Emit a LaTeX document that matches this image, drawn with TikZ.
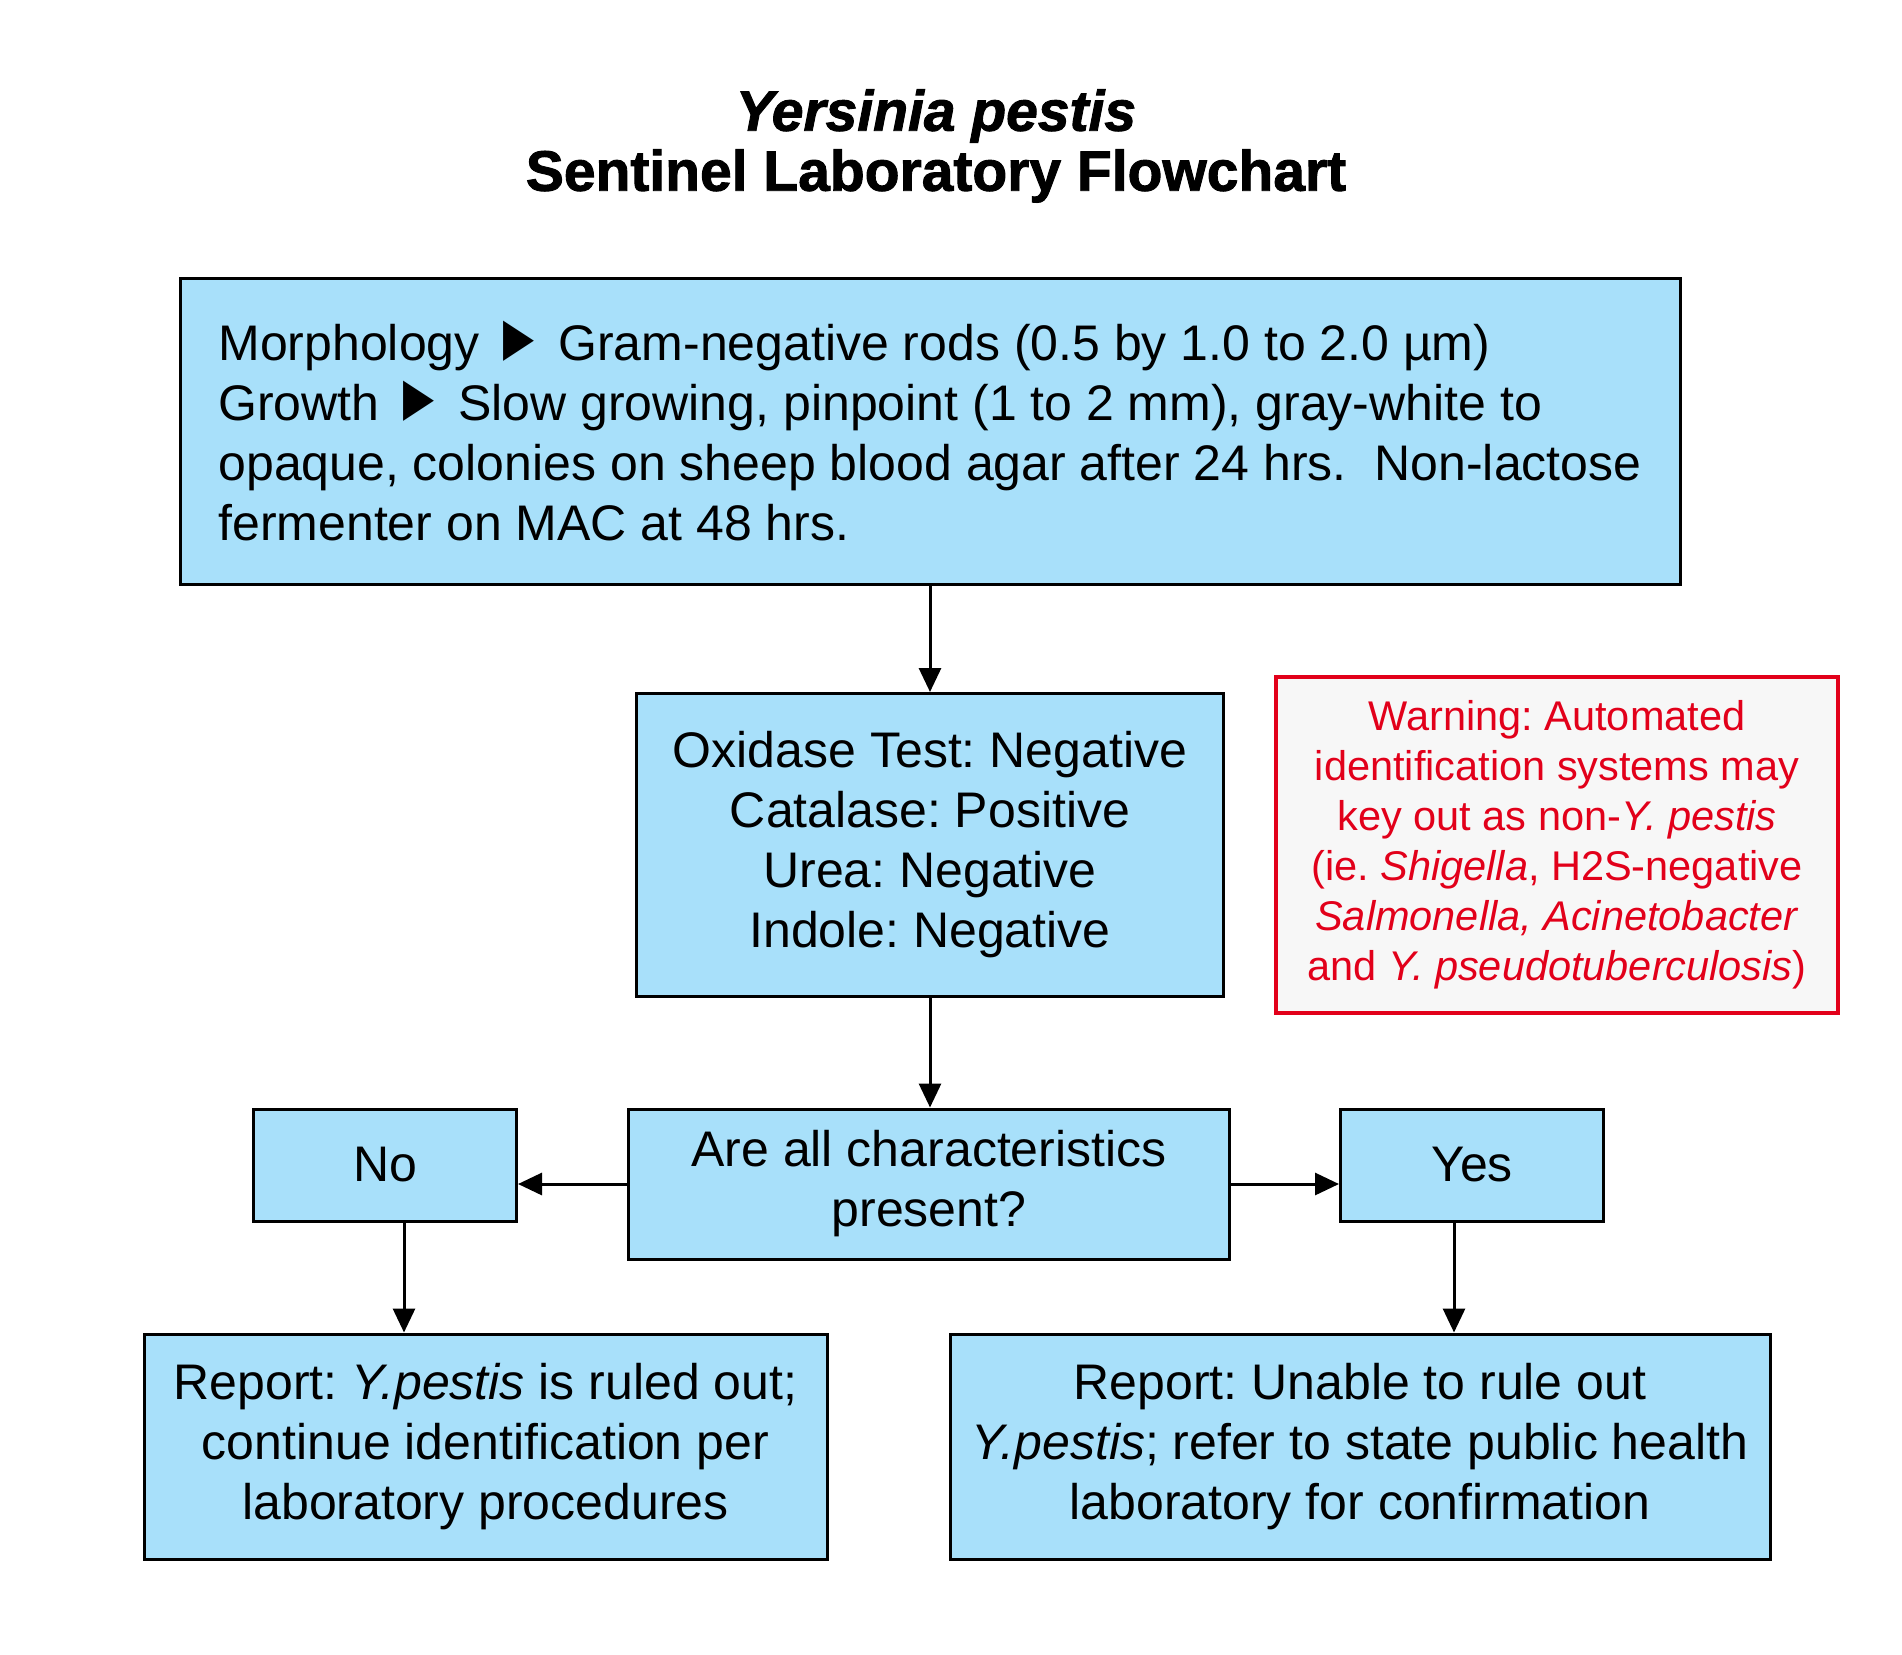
\documentclass[tikz,border=0pt]{standalone}
\usepackage{fontspec}
\setmainfont{Liberation Sans}
\newfontfamily\titlefont[FakeBold=1.6]{Liberation Sans}
\usetikzlibrary{arrows.meta}
\definecolor{boxblue}{RGB}{168,224,250}
\definecolor{warnred}{RGB}{226,0,26}
\definecolor{warnfill}{RGB}{247,247,247}
\newcommand{\pointer}{\scalebox{1.03}[1.35]{►}}
\frenchspacing
\begin{document}
\begin{tikzpicture}[x=1pt,y=-1pt,
  box/.style={draw=black, line width=3pt, fill=boxblue, inner sep=0pt, align=center, font=\fontsize{50}{60}\selectfont},
  warnbox/.style={draw=warnred, line width=3.5pt, fill=warnfill, text=warnred, inner sep=0pt, align=center, font=\fontsize{41.5}{50}\selectfont},
  titletext/.style={inner sep=0pt, font=\titlefont\fontsize{57}{68}\selectfont\bfseries},
  arr/.style={line width=3pt, -{Triangle[width=22pt,length=24pt]}},
]
\useasboundingbox (0,0) rectangle (1902,1654);

\node[titletext, font=\titlefont\fontsize{57}{68}\selectfont\bfseries\itshape] (t1) at (936,116) {Yersinia pestis};
\node[titletext] (t2) at (936,176) {Sentinel Laboratory Flowchart};

\node[box, align=left, minimum width=1500pt, minimum height=306pt] (top) at (930,431)
  {Morphology \pointer{} Gram-negative rods (0.5 by 1.0 to 2.0 µm)\\
   Growth \pointer{} Slow growing, pinpoint (1 to 2 mm), gray-white to\\
   opaque, colonies on sheep blood agar after 24 hrs.\ \ Non-lactose\\
   fermenter on MAC at 48 hrs.};

\node[box, minimum width=587pt, minimum height=303pt] (ox) at (930,845)
  {Oxidase Test: Negative\\ Catalase: Positive\\ Urea: Negative\\ Indole: Negative};

\node[warnbox, minimum width=562pt, minimum height=336pt] (warn) at (1557,845)
  {Warning: Automated\\
   identification systems may\\
   key out as non-\textit{Y. pestis}\\
   (ie. \textit{Shigella}, H2S-negative\\
   \textit{Salmonella, Acinetobacter}\\
   and \textit{Y. pseudotuberculosis})};

\node[box, minimum width=601pt, minimum height=150pt] (dec) at (929,1184)
  {Are all characteristics\\ present?};

\node[box, minimum width=263pt, minimum height=112pt] (no) at (385,1165) {No};
\node[box, minimum width=263pt, minimum height=112pt] (yes) at (1472,1165) {Yes};

\node[box, minimum width=683pt, minimum height=225pt] (bl) at (485.5,1446.5)
  {Report: \textit{Y.pestis} is ruled out;\\ continue identification per\\ laboratory procedures};
\node[box, minimum width=820pt, minimum height=225pt] (br) at (1360,1446.5)
  {Report: Unable to rule out\\ \textit{Y.pestis}; refer to state public health\\ laboratory for confirmation};

\draw[arr] (top.south) -- (top.south |- ox.north);
\draw[arr] (ox.south) -- (ox.south |- dec.north);
\draw[arr] (dec.west) -- (dec.west -| no.east);
\draw[arr] (dec.east) -- (dec.east -| yes.west);
\draw[arr] ([xshift=19pt]no.south) -- ([xshift=19pt]no.south |- bl.north);
\draw[arr] ([xshift=-18pt]yes.south) -- ([xshift=-18pt]yes.south |- br.north);
\end{tikzpicture}
\end{document}
